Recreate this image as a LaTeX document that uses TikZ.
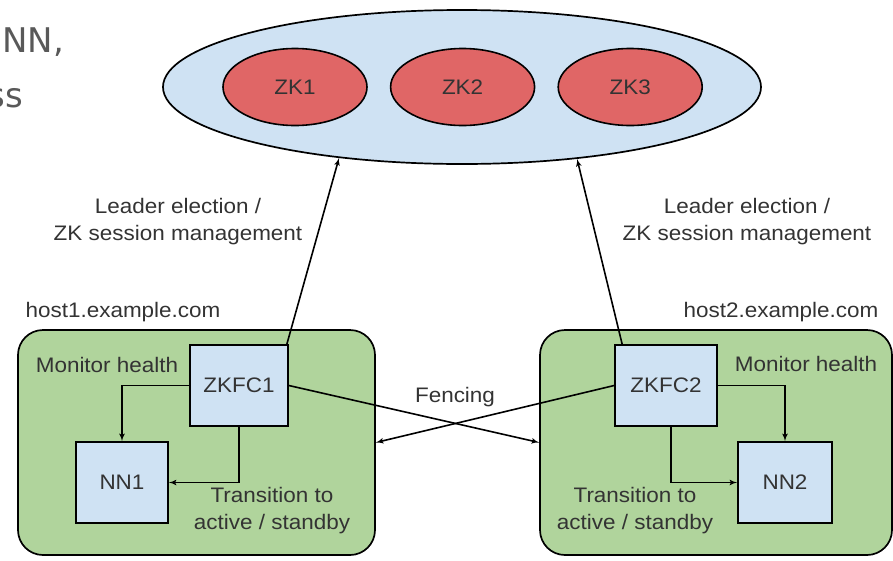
\documentclass[tikz,border=0pt]{standalone}
\usepackage{fontspec}
\setmainfont{Liberation Sans}[FakeStretch=1.07]
\newfontfamily\cutfont{DejaVu Sans}
\usepackage{tikz}
\usetikzlibrary{positioning}
\usetikzlibrary{shapes,arrows}
\definecolor{zkblue}{HTML}{CFE2F3}
\definecolor{zkred}{HTML}{E06666}
\definecolor{hostgreen}{HTML}{B0D49C}
\definecolor{labelgray}{HTML}{333333}
\tikzstyle{cluster} = [ellipse, draw, fill=zkblue, line width=1.7pt,
    minimum width=598pt, minimum height=154pt, inner sep=0pt]
\tikzstyle{server} = [ellipse, draw, fill=zkred, line width=1.6pt,
    minimum width=144pt, minimum height=77pt, inner sep=0pt, text=black!80]
\tikzstyle{host} = [rectangle, draw, fill=hostgreen, rounded corners=25pt,
    line width=1.7pt, minimum height=225pt, inner sep=0pt]
\tikzstyle{block} = [rectangle, draw, fill=zkblue, line width=1.7pt,
    minimum height=81pt, inner sep=0pt, text=black!80]
\tikzstyle{note} = [text=labelgray, align=center, inner sep=0pt]
\tikzstyle{cut} = [text=black!65, inner sep=0pt, font=\cutfont\fontsize{34}{40}\selectfont]
\tikzstyle{line} = [draw, line width=1.6pt, -latex']

\begin{document}
\begin{tikzpicture}[x=1pt, y=-1pt, font=\fontsize{21}{27}\selectfont]
        \clip (0,0) rectangle (893,560);
            % Nodes
        \node [cut, anchor=base west] (cuta) at (2,52) {NN,};
        \node [cut, anchor=base east] (cutb) at (23,107) {ss};
        \node [cluster] (zk) at (462,87) {};
        \node [server] (zk1) at (295,87) {ZK1};
        \node [server, right=22pt of zk1] (zk2) {ZK2};
        \node [server, right=22pt of zk2] (zk3) {ZK3};
        \node [note] (elect1) at (178,222) {Leader election /\\ZK session management};
        \node [note] (elect2) at (747,222) {Leader election /\\ZK session management};
        \node [note] (name1) at (123,312) {host1.example.com};
        \node [note] (name2) at (781,312) {host2.example.com};
        \node [host, minimum width=357pt] (host1) at (196.5,442.5) {};
        \node [host, minimum width=352pt] (host2) at (716,442.5) {};
        \node [block, minimum width=98pt] (zkfc1) at (239,385.5) {ZKFC1};
        \node [block, minimum width=92pt] (nn1) at (122,482.5) {NN1};
        \node [block, minimum width=102pt] (zkfc2) at (666,385.5) {ZKFC2};
        \node [block, minimum width=94pt] (nn2) at (785,482.5) {NN2};
        \node [note] (mon1) at (107,365) {Monitor health};
        \node [note] (mon2) at (806,364) {Monitor health};
        \node [note] (trans1) at (272,511) {Transition to\\active / standby};
        \node [note] (trans2) at (635,511) {Transition to\\active / standby};
        \node [note] (fence) at (455,397) {Fencing};
            % Edges
        \path [line] ([xshift=-2pt]zkfc1.north east) -- (zk.210.6);
        \path [line] ([xshift=8pt]zkfc2.north west) -- (zk.328.3);
        \path [line] (zkfc1.east) -- (host2.west);
        \path [line] (zkfc2.west) -- (host1.east);
        \path [line] (zkfc1.west) -| (nn1.north);
        \path [line] (zkfc1.south) |- (nn1.east);
        \path [line] (zkfc2.east) -| (nn2.north);
        \path [line] ([xshift=5pt]zkfc2.south) |- (nn2.west);
    \end{tikzpicture}
\end{document}
